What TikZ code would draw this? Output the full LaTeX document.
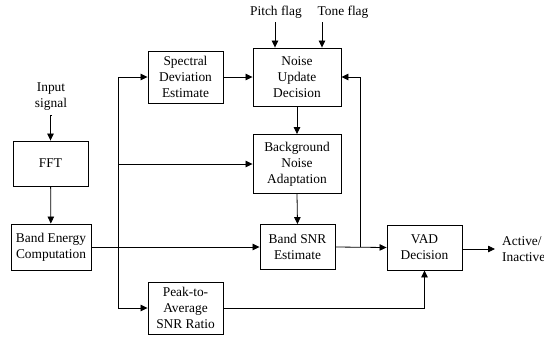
\documentclass[tikz,border=0pt]{standalone}
\usepackage{fontspec}
\setmainfont{Liberation Serif}
\usetikzlibrary{arrows.meta,calc}
\begin{document}
\begin{tikzpicture}[x=1pt,y=-1pt,
  font=\fontsize{13.4}{16}\selectfont,
  blk/.style={draw,line width=0.9pt,inner sep=0pt,align=center},
  lbl/.style={inner sep=0pt,align=center},
  conn/.style={line width=0.8pt,-{Triangle[length=7pt,width=6.5pt]}},
  wire/.style={line width=0.8pt}]
\useasboundingbox (0,0) rectangle (544,338);

% processing blocks
\node[blk,minimum width=75pt,minimum height=45pt] (fft) at (50.5,163.5) {FFT};
\node[blk,minimum width=80pt,minimum height=46pt] (bec) at (51,247) {Band Energy\\Computation};
\node[blk,minimum width=75pt,minimum height=52pt] (sde) at (185.5,77) {Spectral\\Deviation\\Estimate};
\node[blk,minimum width=88pt,minimum height=58pt] (nud) at (297,77) {Noise\\Update\\Decision};
\node[blk,minimum width=88pt,minimum height=59pt] (bna) at (297,164) {Background\\Noise\\Adaptation};
\node[blk,minimum width=75pt,minimum height=45pt] (bsnr) at (297.5,247) {Band SNR\\Estimate};
\node[blk,minimum width=75pt,minimum height=45pt] (vad) at (424.5,247.5) {VAD\\Decision};
\node[blk,minimum width=75pt,minimum height=52pt] (pasr) at (185.5,308) {Peak-to-\\Average\\SNR Ratio};

% external labels
\node[lbl] (inp) at (51,97) {Input\\signal};
\node[lbl] (pitch) at (276,12) {Pitch flag};
\node[lbl] (tone) at (343,12) {Tone flag};
\node[lbl,anchor=west,align=left] (out) at (502,249) {Active/\\Inactive};

% helper points
\coordinate (inpS) at (51,115);
\coordinate (pS) at (275,22);
\coordinate (tS) at (322,22);
\coordinate (bus) at (118,247);
\coordinate (fb) at (360,247);
\coordinate (outE) at (495,249);

% signal flow
\draw[conn] (inpS) -- (fft.north |- inpS) -- (fft.north);
\draw[conn] (fft) -- (bec);
\draw[conn] (bec.east |- bus) -- (bsnr.west |- bus);
\draw[conn] (bus) |- (sde.west);
\draw[conn] (bus) |- (bna.west);
\draw[conn] (bus) |- (pasr.west);
\draw[conn] (sde.east) -- (nud.west |- sde.east);
\draw[conn] (pS) -- (pS |- nud.north);
\draw[conn] (tS) -- (tS |- nud.north);
\draw[conn] (nud) -- (bna);
\draw[conn] (bna.south) -- (bsnr.north);
\draw[conn] (bsnr.east) -- (vad.west);
\draw[conn] (fb) |- (nud.east);
\draw[conn] (pasr.east) -| (vad.south);
\draw[conn] (vad.east |- outE) -- (outE);
\end{tikzpicture}
\end{document}
